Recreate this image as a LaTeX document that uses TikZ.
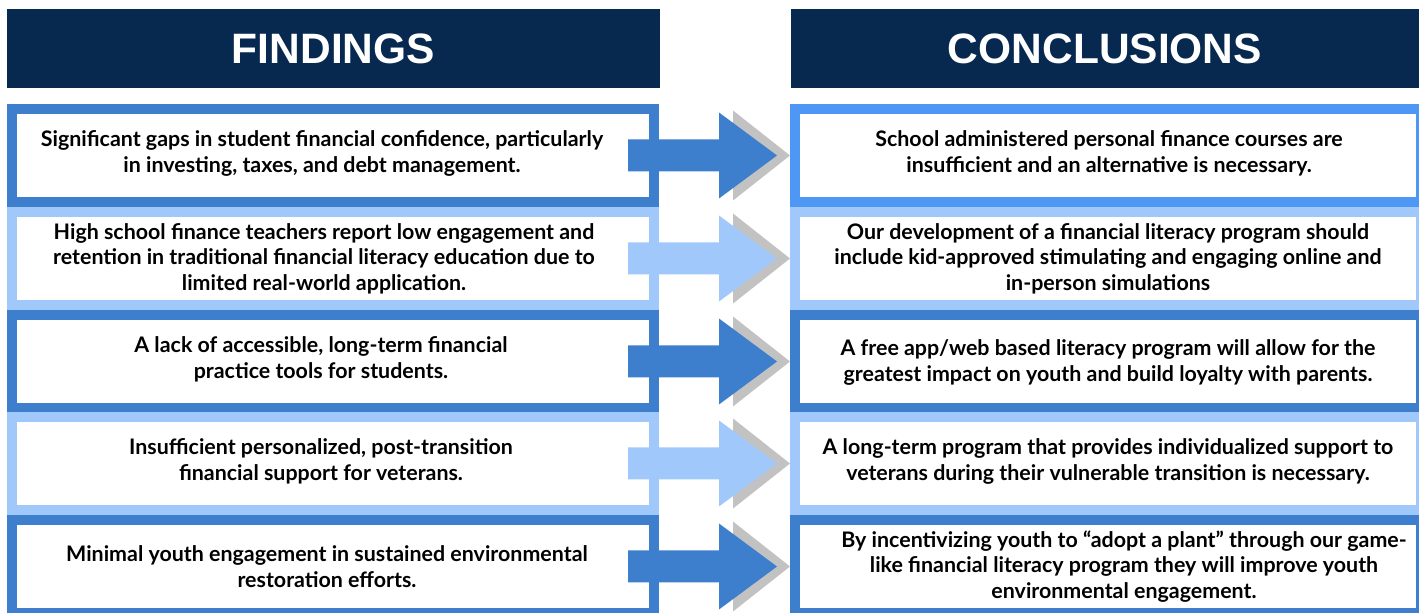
\documentclass[tikz,border=0pt]{standalone}
\usepackage{fontspec}
\setmainfont{Lato}
\newfontfamily\headfont{Liberation Sans}

\definecolor{navy}{HTML}{072950}
\definecolor{dark}{HTML}{3D7FCC}
\definecolor{light}{HTML}{A0C8FA}
\definecolor{bright}{HTML}{4E97F5}
\definecolor{arrowgray}{HTML}{C2C2C2}

\begin{document}
\begin{tikzpicture}[x=1pt,y=1pt,
    head node/.style={fill=navy,text=white,minimum height=79pt,inner sep=0pt,
      font=\headfont\fontsize{42.5}{43}\selectfont\bfseries},
    band node/.style={fill=white,line width=10pt,outer sep=0pt,
      minimum height=93pt,inner sep=0pt},
    text node/.style={align=center,inner sep=0pt,
      font=\fontsize{21.4}{25.5}\selectfont\bfseries}]
  \useasboundingbox (0,0) rectangle (1419,613);

  \node[head node,minimum width=653pt] (fh) at (333.5,564.5) {FINDINGS};
  \node[head node,minimum width=628pt] (ch) at (1105,564.5) {CONCLUSIONS};

  % framed boxes, one row per finding
  \foreach \r/\y/\lc/\rc in {1/457.5/dark/bright,2/354.5/light/light,
      3/251.5/dark/dark,4/149.5/light/light,5/46.5/dark/dark}{
    \node[band node,draw=\lc,minimum width=642pt] (fb\r) at (333,\y) {};
    \node[band node,draw=\rc,minimum width=626pt] (cb\r) at (1108,\y) {};
  }

  % block arrows with a grey shadow behind the head
  \foreach \r/\col in {1/dark,2/light,3/dark,4/light,5/dark}{
    \fill[arrowgray] ([shift={(79,45)}]fb\r.east) -- ([shift={(136,0)}]fb\r.east)
      -- ([shift={(79,-45)}]fb\r.east) -- cycle;
    \fill[\col] ([shift={(-26,16)}]fb\r.east) -- ([shift={(65,16)}]fb\r.east)
      -- ([shift={(65,43)}]fb\r.east) -- ([shift={(123,0)}]fb\r.east)
      -- ([shift={(65,-43)}]fb\r.east) -- ([shift={(65,-16)}]fb\r.east)
      -- ([shift={(-26,-16)}]fb\r.east) -- cycle;
  }

  \node[text node] (f1) at ([shift={(-11,2)}]fb1.center)
    {Significant gaps in student financial confidence, particularly\\in investing, taxes, and debt management.};
  \node[text node] (f2) at ([shift={(-9,0)}]fb2.center)
    {High school finance teachers report low engagement and\\retention in traditional financial literacy education due to\\limited real-world application.};
  \node[text node] (f3) at ([shift={(-12,2)}]fb3.center)
    {A lack of accessible, long-term financial\\practice tools for students.};
  \node[text node] (f4) at ([shift={(-12,2)}]fb4.center)
    {Insufficient personalized, post-transition\\financial support for veterans.};
  \node[text node] (f5) at ([shift={(-6,0)}]fb5.center)
    {Minimal youth engagement in sustained environmental\\restoration efforts.};

  \node[text node] (c1) at ([shift={(1,2)}]cb1.center)
    {School administered personal finance courses are\\insufficient and an alternative is necessary.};
  \node[text node] (c2) at ([shift={(0,0)}]cb2.center)
    {Our development of a financial literacy program should\\include kid-approved stimulating and engaging online and\\in-person simulations};
  \node[text node] (c3) at ([shift={(0,-1)}]cb3.center)
    {A free app/web based literacy program will allow for the\\greatest impact on youth and build loyalty with parents.};
  \node[text node] (c4) at ([shift={(0,2)}]cb4.center)
    {A long-term program that provides individualized support to\\veterans during their vulnerable transition is necessary.};
  \node[text node] (c5) at ([shift={(16,0)}]cb5.center)
    {By incentivizing youth to “adopt a plant” through our game-\\like financial literacy program they will improve youth\\environmental engagement.};
\end{tikzpicture}
\end{document}
